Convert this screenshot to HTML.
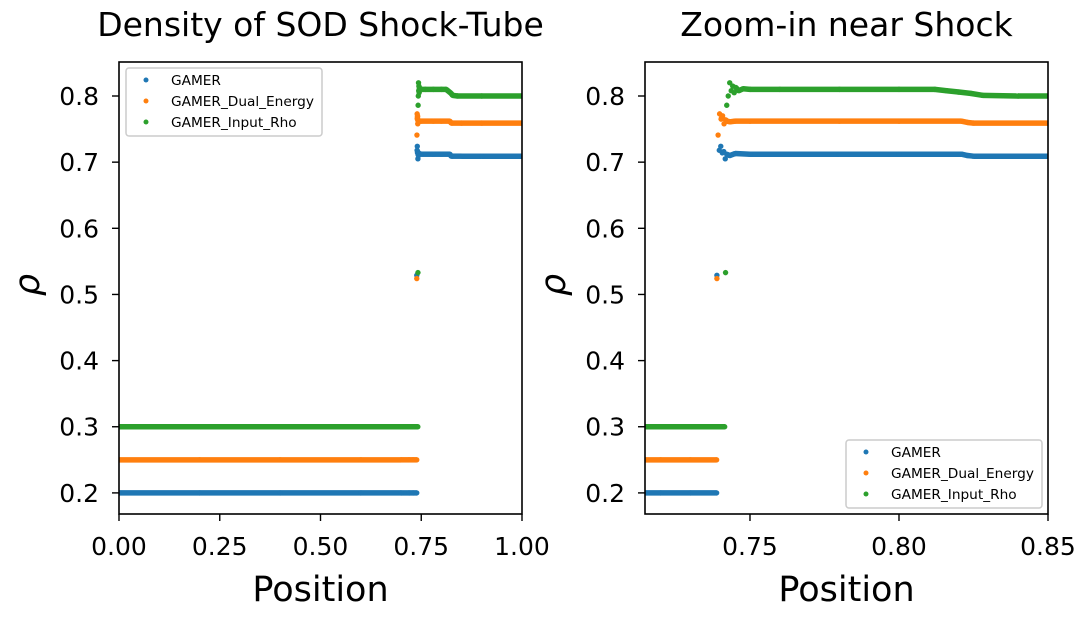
<!DOCTYPE html>
<html><head><meta charset="utf-8"><style>
body{margin:0;background:#fff}
svg{display:block;font-family:"DejaVu Sans","Liberation Sans",sans-serif}
</style></head><body>
<svg id="c" width="1089" height="617" viewBox="0 0 1089 617">
<defs>
<clipPath id="cl"><rect x="119" y="62" width="403" height="452"/></clipPath>
<clipPath id="cr"><rect x="645" y="62" width="403" height="452"/></clipPath>
</defs>
<rect width="1089" height="617" fill="#fff"/>
<g id="L"></g><g id="R"></g>
</svg>
<script>
const seriesNames=["GAMER","GAMER_Dual_Energy","GAMER_Input_Rho"];
const colors=["#1f77b4","#ff7f0e","#2ca02c"];
const blueX=[0,0.2,0.4,0.6,0.7,0.72,0.73,0.7388,0.7389,0.7397,0.7402,0.7407,0.7412,0.7417,0.7422,0.7432,0.7450,0.75,0.78,0.80,0.821,0.823,0.825,0.85,0.9,1.0];
const blueY=[0.2,0.2,0.2,0.2,0.2,0.2,0.2,0.2,0.529,0.718,0.724,0.714,0.716,0.705,0.712,0.710,0.713,0.712,0.712,0.712,0.712,0.710,0.709,0.709,0.709,0.709];
const orangeX=[0,0.2,0.4,0.6,0.7,0.72,0.73,0.7388,0.7389,0.7393,0.7398,0.7403,0.7408,0.7413,0.7418,0.7423,0.7433,0.7450,0.75,0.78,0.80,0.821,0.823,0.825,0.85,0.9,1.0];
const orangeY=[0.25,0.25,0.25,0.25,0.25,0.25,0.25,0.25,0.524,0.741,0.773,0.765,0.770,0.758,0.764,0.762,0.761,0.762,0.762,0.762,0.762,0.762,0.760,0.759,0.759,0.759,0.759];
const greenX=[0,0.2,0.4,0.6,0.7,0.72,0.73,0.7415,0.7418,0.7422,0.7427,0.7432,0.7437,0.7442,0.7447,0.7452,0.7462,0.7477,0.75,0.76,0.78,0.80,0.812,0.816,0.82,0.824,0.828,0.84,0.9,1.0];
const greenY=[0.3,0.3,0.3,0.3,0.3,0.3,0.3,0.3,0.533,0.786,0.800,0.820,0.808,0.815,0.805,0.813,0.808,0.811,0.810,0.810,0.810,0.810,0.810,0.808,0.806,0.804,0.801,0.800,0.800,0.800];
const xsList=[blueX,orangeX,greenX], ysList=[blueY,orangeY,greenY];
const yTicks=[0.2,0.3,0.4,0.5,0.6,0.7,0.8];
const xTicksL=[0,0.25,0.5,0.75,1.0], xTickLabL=["0.00","0.25","0.50","0.75","1.00"];
const xTicksR=[0.75,0.80,0.85], xTickLabR=["0.75","0.80","0.85"];
const NS="http://www.w3.org/2000/svg";
function mk(p,t,a){const e=document.createElementNS(NS,t);for(const k in a)e.setAttribute(k,a[k]);p.appendChild(e);return e;}
function panel(g,x0,xmin,xmax,clip,title,xt,xl,legX,legY){
  const W=403,top=62,bot=514,ymin=0.1681,ymax=0.8514;
  const sx=v=>x0+(v-xmin)/(xmax-xmin)*W, sy=v=>bot-(v-ymin)/(ymax-ymin)*(bot-top);
  const pg=mk(g,'g',{'clip-path':'url(#'+clip+')'});
  
  
  for(let s=0;s<3;s++){
    const xs=xsList[s],ys=ysList[s];
    const sg=mk(pg,'g',{});
    
    
    for(let i=1;i<xs.length;i++){
      if(Math.abs(ys[i]-ys[i-1])<0.006){
        const l=mk(sg,'line',{x1:sx(xs[i-1]),y1:sy(ys[i-1]),x2:sx(xs[i]),y2:sy(ys[i]),stroke:colors[s],'stroke-width':5.5});
        
        
      }
    }
    for(let i=0;i<xs.length;i++){
      const c=mk(sg,'circle',{cx:sx(xs[i]),cy:sy(ys[i]),r:2.7,fill:colors[s]});
      
      
    }
  }
  const fr=mk(g,'rect',{x:x0,y:top,width:W,height:bot-top,fill:'none',stroke:'#000','stroke-width':1.6});
  
  yTicks.forEach(v=>{const y=sy(v);mk(g,'line',{x1:x0-7,x2:x0,y1:y,y2:y,stroke:'#000','stroke-width':1.4});
    const t=mk(g,'text',{x:x0-20,y:y+9,'text-anchor':'end','font-size':25});t.textContent=v.toFixed(1);
    });
  xt.forEach((v,i)=>{const x=sx(v);mk(g,'line',{x1:x0<0?0:x,x2:x,y1:bot,y2:bot+7,stroke:'#000','stroke-width':1.4});
    const t=mk(g,'text',{x:x,y:bot+41,'text-anchor':'middle','font-size':25});t.textContent=xl[i];
    });
  const tt=mk(g,'text',{x:x0+W/2,y:36,'text-anchor':'middle','font-size':33});tt.textContent=title;
  
  const xa=mk(g,'text',{x:x0+W/2,y:601,'text-anchor':'middle','font-size':35});xa.textContent='Position';
  
  const ya=mk(g,'text',{x:0,y:0,'text-anchor':'middle','font-size':35,'font-style':'italic',transform:'translate('+(x0-80)+',285) rotate(-90)'});ya.textContent='ρ';
  
  const lg=mk(g,'g',{});
  
  mk(lg,'rect',{x:legX,y:legY,width:196,height:68,rx:3,fill:'#fff','fill-opacity':0.8,stroke:'#ccc','stroke-width':1.5});
  for(let s=0;s<3;s++){
    const e=mk(lg,'g',{});
    
    mk(e,'circle',{cx:legX+20,cy:legY+12+s*21,r:2.5,fill:colors[s]});
    const t=mk(e,'text',{x:legX+45,y:legY+17+s*21,'font-size':13.7});t.textContent=seriesNames[s];
  }
}
panel(document.getElementById('L'),119,0,1,'cl','Density of SOD Shock-Tube',xTicksL,xTickLabL,126,68);
panel(document.getElementById('R'),645,0.71477,0.85,'cr','Zoom-in near Shock',xTicksR,xTickLabR,846,440);
</script>
</body></html>
